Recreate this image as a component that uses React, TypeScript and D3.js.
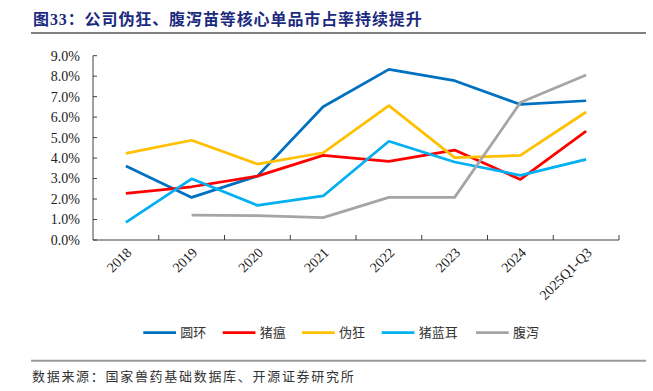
import React from "react";
import * as d3 from "d3";

const categories = ["2018", "2019", "2020", "2021", "2022", "2023", "2024", "2025Q1-Q3"];
const seriesNames = ["圆环", "猪瘟", "伪狂", "猪蓝耳", "腹泻"];
const seriesColors = ["#0070C0", "#FF0000", "#FFC000", "#00B0F0", "#A5A5A5"];
const yuanhuan = [3.61, 2.08, 3.12, 6.51, 8.33, 7.78, 6.62, 6.80];
const zhuwen = [2.28, 2.60, 3.12, 4.13, 3.84, 4.39, 2.96, 5.32];
const weikuang = [4.23, 4.87, 3.71, 4.26, 6.56, 4.02, 4.13, 6.25];
const zhulanger = [0.86, 2.99, 1.69, 2.15, 4.82, 3.81, 3.16, 3.94];
const fuxie: (number | null)[] = [null, 1.22, 1.19, 1.09, 2.08, 2.08, 6.71, 8.06];
const yTicks = [0, 1, 2, 3, 4, 5, 6, 7, 8, 9];
const title = "图33：公司伪狂、腹泻苗等核心单品市占率持续提升";
const source = "数据来源：国家兽药基础数据库、开源证券研究所";

const allSeries = [yuanhuan, zhuwen, weikuang, zhulanger, fuxie];

export default function App() {
  const W = 653, H = 391;
  const left = 93, right = 619, top = 55.7, bottom = 240;
  const x = d3.scaleBand<string>().domain(categories).range([left, right]);
  const y = d3.scaleLinear().domain([0, 9]).range([bottom, top]);
  const cx = (c: string) => (x(c) as number) + x.bandwidth() / 2;
  const line = d3
    .line<number | null>()
    .defined((d) => d !== null)
    .x((_, i) => cx(categories[i]))
    .y((d) => y(d as number));

  const serif = "'Liberation Serif', 'Times New Roman', serif";
  const cjk = "'Noto Sans CJK SC', 'Noto Sans', sans-serif";
  const legendX = [143.3, 222.7, 302, 381.7, 476];

  return (
    <svg width={W} height={H} style={{ position: "absolute", left: 0, top: 0, background: "#fff" }}>
      <text x={33} y={25} fontFamily={`'Liberation Serif', ${cjk}`} fontWeight="bold" fontSize={16} letterSpacing={0.9} fill="#1C2B7F">
        {title}
      </text>
      <line x1={31} x2={646} y1={33} y2={33} stroke="#7F7F7F" strokeWidth={2} />

      {/* y axis */}
      <line x1={left} x2={left} y1={top} y2={bottom} stroke="#404040" strokeWidth={1} />
      {yTicks.map((t) => (
        <g key={t}>
          <line x1={left} x2={left + 4} y1={y(t)} y2={y(t)} stroke="#404040" />
          <text x={80} y={y(t)} dy="0.35em" textAnchor="end" fontFamily={serif} fontSize={14} fill="#222">
            {t.toFixed(1) + "%"}
          </text>
        </g>
      ))}
      {/* x axis */}
      <line x1={left} x2={right} y1={bottom} y2={bottom} stroke="#404040" strokeWidth={1} />
      {categories.map((c) => (
        <g key={c}>
          <line
            x1={(x(c) as number) + x.bandwidth()}
            x2={(x(c) as number) + x.bandwidth()}
            y1={bottom}
            y2={bottom - 5}
            stroke="#404040"
          />
          <text
            transform={`translate(${cx(c) + 3},${bottom + 10}) rotate(-45)`}
            textAnchor="end"
            dy="0.35em"
            fontFamily={serif}
            fontSize={14}
            fill="#222"
          >
            {c}
          </text>
        </g>
      ))}

      {allSeries.map((s, i) => (
        <path key={i} d={line(s) || ""} fill="none" stroke={seriesColors[i]} strokeWidth={2.75} strokeLinejoin="round" />
      ))}

      {seriesNames.map((n, i) => (
        <g key={n}>
          <line x1={legendX[i]} x2={legendX[i] + 32.7} y1={332.7} y2={332.7} stroke={seriesColors[i]} strokeWidth={2.75} />
          <text x={legendX[i] + 37} y={332.7} dy="0.35em" fontFamily={cjk} fontSize={13} fill="#333">
            {n}
          </text>
        </g>
      ))}

      <line x1={31} x2={646} y1={360.7} y2={360.7} stroke="#9A9A9A" strokeWidth={2} />
      <text x={32} y={376} dy="0.35em" fontFamily={cjk} fontSize={13} letterSpacing={1.7} fill="#333">
        {source}
      </text>
    </svg>
  );
}
